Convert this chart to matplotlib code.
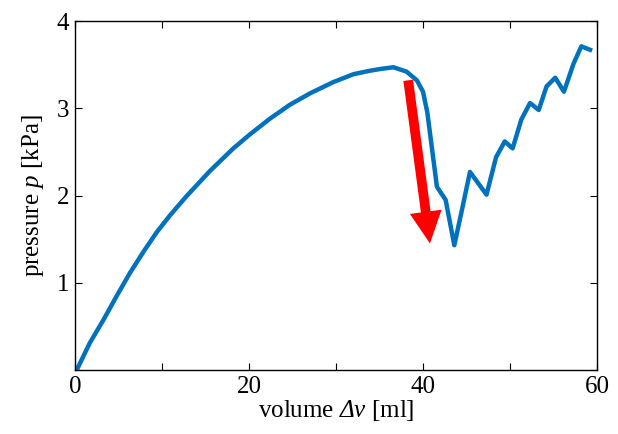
import matplotlib
matplotlib.use("Agg")
import matplotlib.pyplot as plt

plt.rcParams['font.family'] = ['Liberation Serif', 'DejaVu Serif']
plt.rcParams['mathtext.fontset'] = 'custom'
plt.rcParams['mathtext.rm'] = 'Liberation Serif:italic'
plt.rcParams['mathtext.it'] = 'Liberation Serif:italic'

volume = [0.2, 1.7, 3.3, 4.8, 6.3, 7.9, 9.4, 10.9, 12.8, 15.5, 18.2, 20.1, 22.4,
          24.7, 27.0, 29.7, 32.0, 33.9, 35.1, 36.6, 38.1, 39.3, 40.0, 40.5,
          41.6, 42.6, 43.6, 44.4, 45.4, 47.3, 48.4, 49.4,
          50.3, 51.3, 52.3, 53.3, 54.2, 55.2, 56.2, 57.3, 58.2, 59.2]
pressure = [0.0, 0.31, 0.58, 0.85, 1.11, 1.36, 1.58, 1.77, 1.99, 2.28, 2.54, 2.70, 2.88,
            3.04, 3.17, 3.30, 3.39, 3.43, 3.45, 3.47, 3.42, 3.32, 3.19, 2.95,
            2.10, 1.95, 1.43, 1.80, 2.27, 2.01, 2.44, 2.62,
            2.54, 2.87, 3.06, 2.98, 3.25, 3.35, 3.19, 3.51, 3.71, 3.67]

arrow_start = (38.3, 3.32)
arrow_end = (40.8, 1.45)

xticks = [0, 10, 20, 30, 40, 50, 60]
xticklabels = ['0', '', '20', '', '40', '', '60']
yticks = [0, 1, 2, 3, 4]
yticklabels = ['', '1', '2', '3', '4']

fig = plt.figure(figsize=(6.18, 4.34), dpi=100)
ax = fig.add_axes([75/618, 1-370/434, (597-75)/618, (370-21)/434])
ax.plot(volume, pressure, color='#0072BD', lw=3.2, solid_joinstyle='round')

ax.annotate('', xy=arrow_end, xytext=arrow_start,
            arrowprops=dict(arrowstyle='simple,head_width=1.15,head_length=1.15,tail_width=0.35',
                            color='#FF0000', lw=0, shrinkA=0, shrinkB=0,
                            mutation_scale=20))

ax.set_xlim(0, 60)
ax.set_ylim(0, 4)
ax.set_xticks(xticks)
ax.set_xticklabels(xticklabels)
ax.set_yticks(yticks)
ax.set_yticklabels(yticklabels)
ax.tick_params(direction='in', top=True, right=True, labelsize=18, length=5, width=0.8, pad=4)
for s in ax.spines.values():
    s.set_linewidth(1.0)
ax.set_xlabel(r'volume $Δv$ [ml]', fontsize=18, labelpad=0)
ax.set_ylabel(r'pressure $p$ [kPa]', fontsize=18, labelpad=8)

fig.savefig('out.png', dpi=100)
